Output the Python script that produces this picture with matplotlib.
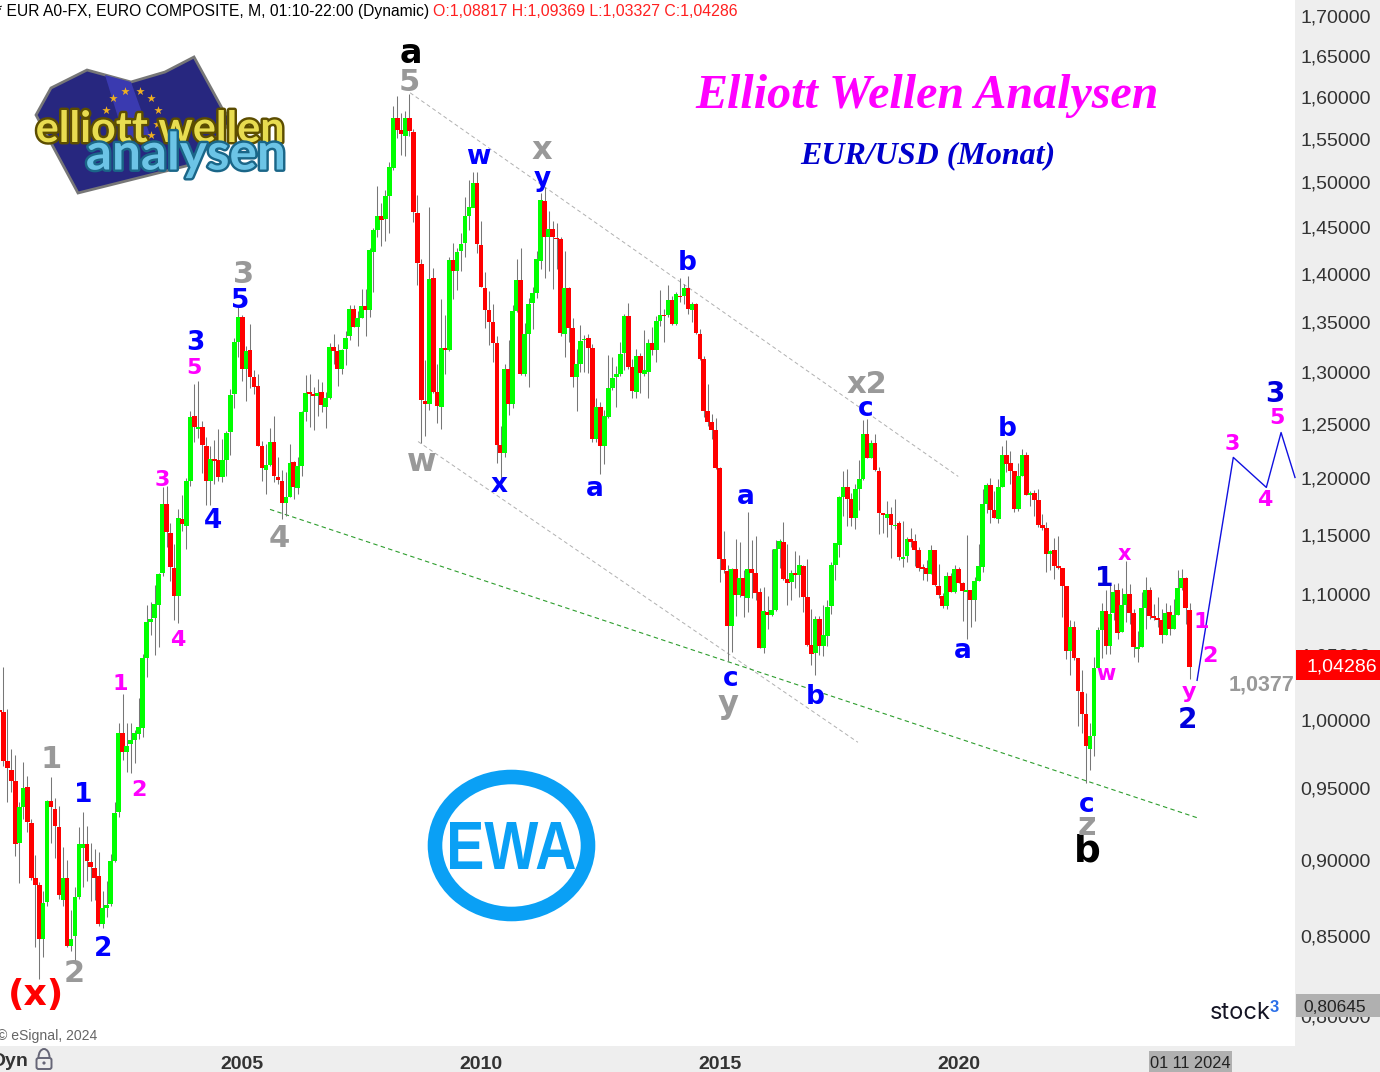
import numpy as np
import matplotlib
matplotlib.use('Agg')
import matplotlib.pyplot as plt
import matplotlib.patheffects as pe
from matplotlib.patches import Ellipse, Polygon, Rectangle, FancyBboxPatch, PathPatch, Circle, Arc
from matplotlib.textpath import TextPath
from matplotlib.font_manager import FontProperties
from matplotlib.transforms import Affine2D, ScaledTranslation

plt.rcParams['font.family'] = ['Liberation Sans', 'DejaVu Sans']

# monatskerzen EUR/USD, dez 1999 bis nov 2024
opens = [1.0095,
    1.0075,.971,.965,.957,.9127,.938,.9527,.9272,.8894,.8847,.8496,.873,
    .9424,.9367,.9244,.8747,.8892,.8449,.8509,.8767,.9096,.912,.9002,.8962,
    .8908,.859,.8694,.8721,.9009,.9347,.9918,.9777,.9834,.987,.9913,.996,
    1.05,1.0784,1.0816,1.0925,1.1188,1.1788,1.1533,1.1234,1.0999,1.1656,1.1592,1.1997,
    1.2598,1.2475,1.2494,1.2317,1.1997,1.2195,1.2185,1.2027,1.2185,1.2441,1.2804,1.332,
    1.3567,1.3047,1.3236,1.2975,1.2887,1.2317,1.2098,1.2141,1.235,1.2033,1.1997,1.1794,
    1.1854,1.217,1.1928,1.2127,1.2632,1.2826,1.2807,1.279,1.2822,1.268,1.277,1.3266,
    1.323,1.305,1.3248,1.338,1.3656,1.3469,1.3564,1.3687,1.3642,1.425,1.4495,1.465,
    1.4607,1.487,1.5186,1.5766,1.5623,1.555,1.5766,1.5605,1.4681,1.413,1.2737,1.2712,
    1.3978,1.2823,1.2682,1.3258,1.3241,1.4168,1.4048,1.4268,1.4347,1.465,1.4731,1.5016,
    1.4332,1.3873,1.3646,1.3516,1.3307,1.2323,1.2252,1.3048,1.2712,1.3638,1.3957,1.2997,
    1.3395,1.3718,1.3816,1.4157,1.4815,1.4412,1.4502,1.4405,1.4393,1.3401,1.3876,1.3455,
    1.2971,1.3096,1.3334,1.3355,1.3255,1.2382,1.2679,1.2316,1.2587,1.2868,1.2971,1.2997,
    1.3208,1.3587,1.3067,1.2825,1.3181,1.3005,1.302,1.3311,1.3241,1.3535,1.3594,1.3597,
    1.375,1.3499,1.3791,1.3786,1.3876,1.3645,1.371,1.3401,1.3145,1.2641,1.2537,1.2462,
    1.2108,1.1306,1.1206,1.0756,1.1221,1.1006,1.1152,1.0984,1.1221,1.119,1.1029,1.0579,
    1.0867,1.0842,1.0883,1.1393,1.1459,1.1136,1.1114,1.119,1.1173,1.1249,1.099,1.06,
    1.0535,1.081,1.0593,1.0672,1.0915,1.1257,1.1429,1.1848,1.1938,1.183,1.1662,1.1919,
    1.2009,1.2423,1.2208,1.2338,1.2087,1.1706,1.1662,1.1697,1.1594,1.1617,1.1308,1.1334,
    1.1481,1.1462,1.1385,1.1235,1.123,1.1184,1.1385,1.1081,1.0999,1.0919,1.1165,1.1034,
    1.1224,1.1106,1.1034,1.1048,1.0968,1.1123,1.1244,1.1792,1.1955,1.1733,1.1653,1.1937,
    1.2227,1.2154,1.2082,1.1747,1.2036,1.2235,1.1872,1.1884,1.1822,1.1599,1.158,1.1351,
    1.1385,1.1249,1.1232,1.1081,1.0554,1.0745,1.05,1.0234,1.0066,.9797,.99,1.042,
    1.0718,1.0873,1.0593,1.086,1.1046,1.0705,1.0922,1.1015,1.0857,1.0569,1.0585,1.0897,
    1.1046,1.083,1.0814,1.0798,1.0678,1.0865,1.0727,1.084,1.1063,1.1146,1.08817]

closes = [1.0075,
    .9711,.9658,.9565,.9123,.9379,.9517,.9274,.889,.8845,.8492,.8725,.9426,
    .9379,.9246,.878,.8892,.8449,.8492,.8767,.9123,.9123,.9009,.8969,.8894,
    .859,.8694,.8714,.9009,.934,.9918,.9777,.982,.987,.9918,.9963,1.05,
    1.0784,1.081,1.0928,1.1183,1.1788,1.154,1.1239,1.0999,1.1665,1.1612,1.1997,1.2591,
    1.2488,1.2495,1.2326,1.1997,1.2195,1.218,1.2027,1.2185,1.2438,1.2795,1.332,1.3567,
    1.3047,1.323,1.2969,1.2879,1.2318,1.211,1.2141,1.235,1.2036,1.2006,1.1794,1.1854,
    1.2158,1.1937,1.2127,1.2637,1.2815,1.281,1.2783,1.2813,1.27,1.277,1.3266,1.323,
    1.3047,1.3241,1.3361,1.3656,1.3469,1.3557,1.3687,1.3642,1.4275,1.4495,1.465,1.4601,
    1.487,1.5198,1.5766,1.5627,1.5577,1.5766,1.5608,1.4685,1.4133,1.2746,1.2712,1.3968,
    1.2826,1.2693,1.3262,1.3241,1.4168,1.4048,1.4254,1.4339,1.465,1.4746,1.5016,1.4336,
    1.388,1.3642,1.352,1.331,1.2326,1.2252,1.3048,1.2712,1.3638,1.3957,1.2997,1.3395,
    1.371,1.3816,1.418,1.4826,1.4412,1.4502,1.4412,1.439,1.3408,1.3876,1.3458,1.2971,
    1.3096,1.3331,1.3352,1.3258,1.2382,1.2679,1.2316,1.2594,1.2868,1.2964,1.2997,1.3201,
    1.3587,1.307,1.2835,1.3181,1.3012,1.3037,1.3311,1.3238,1.3535,1.3594,1.358,1.375,
    1.3499,1.3811,1.3776,1.3876,1.3652,1.371,1.3408,1.3148,1.2644,1.254,1.2465,1.2114,
    1.1306,1.1215,1.0756,1.1221,1.1006,1.1152,1.0998,1.1221,1.1193,1.1026,1.0579,1.0872,
    1.0845,1.0883,1.1393,1.1462,1.1139,1.1106,1.1187,1.1173,1.1257,1.099,1.06,1.053,
    1.081,1.0593,1.0681,1.0904,1.1254,1.1443,1.1848,1.1938,1.183,1.1662,1.1919,1.2015,
    1.2423,1.2208,1.2338,1.209,1.1706,1.1688,1.1697,1.1607,1.1607,1.1325,1.1325,1.1481,
    1.1459,1.1385,1.1235,1.1225,1.1185,1.1385,1.1089,1.1007,1.0919,1.1165,1.1034,1.1224,
    1.1109,1.104,1.1045,1.0968,1.1123,1.1249,1.1786,1.1955,1.1733,1.1665,1.1937,1.2227,
    1.2148,1.2082,1.1747,1.2036,1.2235,1.1872,1.1884,1.1825,1.1599,1.158,1.1351,1.1377,
    1.1249,1.1232,1.1084,1.0554,1.0745,1.05,1.0242,1.0066,.9822,.99,1.042,1.0721,
    1.0873,1.0593,1.0848,1.1029,1.0697,1.0922,1.1015,1.0857,1.0582,1.0585,1.0897,1.1046,
    1.0833,1.0814,1.0798,1.0678,1.0857,1.0727,1.084,1.1063,1.1146,1.0896,1.04286]

highs = [1.0215,
    1.0424,1.0097,.9797,.9757,.942,.9708,.9606,.9297,.905,.8863,.8803,.9433,
    .9599,.9445,.9391,.91,.9016,.868,.883,.9243,.9344,.925,.9127,.9089,
    .907,.8807,.8874,.9055,.9419,.9995,1.0217,.9993,.9995,.9943,1.0186,1.0525,
    1.092,1.095,1.1093,1.1192,1.1937,1.1946,1.1622,1.1438,1.1745,1.1868,1.2021,1.2648,
    1.2903,1.2935,1.2552,1.24,1.2312,1.2369,1.2473,1.2376,1.2457,1.2857,1.336,1.369,
    1.3597,1.328,1.35,1.304,1.3,1.2364,1.233,1.248,1.2598,1.2215,1.2097,1.2073,
    1.2333,1.218,1.2216,1.2647,1.2995,1.3,1.2877,1.2957,1.2919,1.283,1.331,1.3395,
    1.33,1.325,1.343,1.37,1.37,1.3636,1.3863,1.3857,1.4293,1.451,1.498,1.4785,
    1.4937,1.5255,1.5913,1.6033,1.5825,1.585,1.6055,1.5643,1.488,1.418,1.3137,1.4741,
    1.4079,1.31,1.3752,1.3594,1.42,1.4346,1.43,1.446,1.4859,1.505,1.5136,1.5136,
    1.4594,1.4045,1.3838,1.371,1.3375,1.2502,1.31,1.334,1.369,1.4176,1.4292,1.3513,
    1.377,1.3884,1.4268,1.4896,1.4965,1.4704,1.4592,1.4563,1.441,1.4265,1.3887,1.3565,
    1.3251,1.3494,1.3385,1.3395,1.33,1.2764,1.2725,1.2651,1.3185,1.3168,1.3076,1.3318,
    1.3604,1.372,1.3145,1.3251,1.3208,1.3435,1.3352,1.347,1.3587,1.3847,1.3655,1.3908,
    1.3793,1.3828,1.3978,1.3915,1.3994,1.3724,1.372,1.3452,1.3175,1.29,1.2619,1.258,
    1.2121,1.155,1.1257,1.1229,1.1481,1.1452,1.1215,1.1715,1.1472,1.1507,1.1062,1.1076,
    1.0997,1.1392,1.1472,1.148,1.1632,1.1436,1.1215,1.1377,1.1343,1.1257,1.1313,1.089,
    1.083,1.083,1.0925,1.0965,1.128,1.145,1.1857,1.2083,1.2106,1.1889,1.197,1.2183,
    1.2555,1.2572,1.2367,1.2429,1.2121,1.1706,1.181,1.1762,1.183,1.1639,1.1639,1.1496,
    1.1574,1.1523,1.1413,1.127,1.13,1.143,1.1385,1.1264,1.102,1.1195,1.1187,1.1258,
    1.1244,1.1117,1.1514,1.1048,1.116,1.1437,1.1918,1.198,1.2025,1.19,1.2015,1.2319,
    1.2366,1.227,1.2082,1.216,1.2283,1.226,1.19,1.191,1.1918,1.1703,1.1625,1.1385,
    1.1493,1.1505,1.1232,1.1081,1.08,1.0789,1.05,1.0404,1.022,.9995,1.0505,1.0747,
    1.0941,1.1046,1.1101,1.1101,1.1108,1.1063,1.1293,1.11,1.0894,1.071,1.1032,1.1157,
    1.1074,1.0935,1.0987,1.0894,1.094,1.0923,1.0977,1.1213,1.1228,1.1157,1.09369]

lows = [1.0,
    .9679,.9415,.9486,.9043,.8857,.9297,.9204,.888,.8443,.8239,.838,.8708,
    .9127,.9025,.8752,.8708,.8445,.8417,.8354,.8752,.8834,.8874,.8741,.8746,
    .8577,.8566,.8636,.8708,.8997,.9313,.9723,.963,.9623,.9696,.9878,.989,
    1.035,1.0676,1.052,1.058,1.1168,1.141,1.1127,1.0802,1.0776,1.1548,1.1394,1.1946,
    1.235,1.2386,1.2063,1.178,1.1783,1.1967,1.1997,1.1982,1.2036,1.2233,1.2672,1.317,
    1.2935,1.2742,1.2863,1.2807,1.2318,1.1997,1.1877,1.2133,1.1985,1.1967,1.1655,1.1685,
    1.1848,1.1833,1.1877,1.2042,1.2545,1.2488,1.2466,1.26,1.2634,1.248,1.276,1.31,
    1.288,1.3,1.3086,1.3335,1.3469,1.3278,1.3557,1.338,1.357,1.3827,1.4419,1.432,
    1.437,1.4455,1.516,1.5531,1.533,1.532,1.555,1.4583,1.3908,1.2345,1.2412,1.265,
    1.2816,1.253,1.2471,1.3,1.3228,1.376,1.385,1.4048,1.42,1.4495,1.4741,1.424,
    1.388,1.346,1.3285,1.312,1.216,1.1925,1.2215,1.2603,1.267,1.3625,1.2988,1.2985,
    1.2875,1.3451,1.377,1.4073,1.3975,1.405,1.3863,1.407,1.338,1.3168,1.3318,1.2876,
    1.2645,1.3018,1.302,1.301,1.2353,1.2353,1.2056,1.2149,1.258,1.285,1.2682,1.2985,
    1.3037,1.3055,1.2771,1.277,1.282,1.298,1.277,1.3185,1.3118,1.3485,1.3318,1.3573,
    1.349,1.349,1.3725,1.3707,1.3604,1.352,1.3394,1.314,1.2587,1.25,1.2382,1.21,
    1.1117,1.1187,1.0474,1.054,1.0834,1.0992,1.0829,1.087,1.098,1.0965,1.0575,1.0535,
    1.0729,1.0835,1.0875,1.1235,1.1135,1.0925,1.0965,1.1067,1.0992,1.087,1.0595,1.0442,
    1.036,1.052,1.0515,1.0588,1.085,1.1131,1.1323,1.168,1.159,1.1593,1.1572,1.1733,
    1.2,1.2208,1.2208,1.2085,1.152,1.1531,1.15,1.1315,1.157,1.13,1.124,1.1286,
    1.1413,1.125,1.121,1.113,1.112,1.118,1.108,1.098,1.09,1.0894,1.103,1.102,
    1.1105,1.0796,1.0649,1.0748,1.079,1.112,1.1202,1.171,1.1623,1.1665,1.162,1.1937,
    1.2072,1.197,1.172,1.1727,1.2036,1.1865,1.177,1.168,1.1587,1.156,1.1202,1.122,
    1.1139,1.1225,1.0822,1.049,1.0365,1.048,.9971,.9916,.9555,.965,.9749,1.042,
    1.0493,1.0527,1.0527,1.08,1.0646,1.0705,1.0786,1.0772,1.0506,1.0468,1.0585,1.0732,
    1.081,1.08,1.0745,1.0617,1.0678,1.068,1.0727,1.084,1.1046,1.0772,1.03327]

# trendlinien: monate seit jan 2000 / kurs
upper_gray_x = [102.2, 239.9]
upper_gray_y = [1.607, 1.2035]
lower_gray_x = [104.2, 214.7]
lower_gray_y = [1.2356, .985]
green_x = [67, 300.2]
green_y = [1.174, .9303]
forecast_x = [299.9, 309, 317.3, 321, 324.5]
forecast_y = [1.0321, 1.2209, 1.1936, 1.2440, 1.2026]

price_ticks = [1.70, 1.65, 1.60, 1.55, 1.50, 1.45, 1.40, 1.35, 1.30, 1.25, 1.20,
               1.15, 1.10, 1.05, 1.00, .95, .90, .85, .80]
year_ticks = [60, 120, 180, 240]
year_labels = ['2005', '2010', '2015', '2020']

GRAY = '#999999'
BLUE = '#0000ff'
MAG = '#ff00ff'
# wellenbeschriftung: text, x, y (pixel), farbe, groesse
wave_labels = [
    ('a', 411, 52, 'black', 24), ('b', 1087, 850, 'black', 27),
    ('5', 409, 81, GRAY, 22), ('3', 244, 273, GRAY, 22), ('1', 51, 758, GRAY, 22),
    ('2', 74, 972, GRAY, 22), ('4', 279, 537, GRAY, 22), ('x2', 867, 383, GRAY, 22),
    ('w', 422, 461, GRAY, 23), ('x', 542, 149, GRAY, 23), ('y', 728, 703, GRAY, 23),
    ('z', 1087, 825, GRAY, 23),
    ('5', 240, 300, BLUE, 19), ('3', 195, 341, BLUE, 19), ('1', 83, 794, BLUE, 19),
    ('2', 103, 948, BLUE, 19), ('4', 213, 520, BLUE, 19), ('w', 478, 155, BLUE, 19),
    ('y', 542, 177, BLUE, 19), ('x', 499, 484, BLUE, 19), ('a', 595, 488, BLUE, 19),
    ('b', 687, 261, BLUE, 19), ('a', 746, 496, BLUE, 19), ('c', 731, 678, BLUE, 19),
    ('b', 815, 696, BLUE, 19), ('c', 866, 408, BLUE, 19), ('a', 963, 650, BLUE, 19),
    ('b', 1007, 427, BLUE, 19), ('1', 1104, 578, '#0000dd', 19), ('c', 1087, 803, BLUE, 19),
    ('2', 1187, 718, '#0000dd', 20), ('3', 1275, 393, '#0000dd', 20),
    ('5', 194, 366, MAG, 16), ('3', 162, 479, MAG, 16), ('4', 178, 639, MAG, 16),
    ('1', 120, 683, MAG, 16), ('2', 139, 788, MAG, 16), ('1', 1201, 621, MAG, 16),
    ('2', 1210, 655, MAG, 16), ('w', 1106, 672, MAG, 15), ('x', 1124, 553, MAG, 15),
    ('y', 1189, 690, MAG, 16), ('3', 1232, 442, MAG, 16), ('4', 1265, 499, MAG, 16),
    ('5', 1277, 417, MAG, 16), ('(x)', 36, 993, '#ff0000', 26),
]

fig = plt.figure(figsize=(13.8, 10.72), dpi=100, facecolor='#eeeeee')
ax = fig.add_axes([0, 26 / 1072, 1295 / 1380, 1046 / 1072], facecolor='white')

x = np.arange(len(closes)) - 1
o = np.array(opens)
c = np.array(closes)
colors = np.where(c >= o, '#00ff00', '#ff0000')

ax.vlines(x, lows, highs, color='#777777', lw=0.75, zorder=2)
ax.bar(x, np.maximum(np.abs(c - o), 0.0012), bottom=np.minimum(o, c), width=1.2,
       color=colors, linewidth=0, zorder=3)

ax.plot(upper_gray_x, upper_gray_y, color='#b0b0b0', lw=0.7, ls=(0, (4, 3)), zorder=1)
ax.plot(lower_gray_x, lower_gray_y, color='#b0b0b0', lw=0.7, ls=(0, (4, 3)), zorder=1)
ax.plot(green_x, green_y, color='#2e9e2e', lw=0.8, ls=(0, (4, 3)), zorder=1)
ax.plot(forecast_x, forecast_y, color='#1010e0', lw=1.0, zorder=4, clip_on=False)

ax.set_yscale('log')
ax.set_xlim(-0.83, 324.5)
ax.set_ylim(0.7835, 1.7234)
ax.yaxis.tick_right()
ax.set_yticks(price_ticks)
ax.set_yticklabels([('%.5f' % p).replace('.', ',') for p in price_ticks], fontsize=14, color='#333333')
ax.minorticks_off()
ax.set_xticks(year_ticks)
ax.set_xticklabels(year_labels, fontsize=14, fontweight='bold', color='#333333')
ax.tick_params(axis='y', length=0, pad=3.8, which='both')
ax.tick_params(axis='x', length=0, pad=7)
up = ScaledTranslation(0, 1.5 / 72, fig.dpi_scale_trans)
for lab in ax.get_yticklabels():
    lab.set_transform(lab.get_transform() + up)
for s in ax.spines.values():
    s.set_visible(False)

# ueberlagerung in pixelkoordinaten fuer texte und logos
ov = fig.add_axes([0, 0, 1, 1], facecolor='none')
ov.set_xlim(0, 1380)
ov.set_ylim(1072, 0)
ov.axis('off')

for txt, px, py, col, size in wave_labels:
    ov.text(px, py + 1.5, txt, color=col, fontsize=size, fontweight='bold', family='DejaVu Sans',
            ha='center', va='center')
ov.text(1262, 685.5, '1,0377', color=GRAY, fontsize=15.5, fontweight='bold', ha='center', va='center')

serif = ['Liberation Serif', 'DejaVu Serif']
ov.text(927, 96, 'Elliott Wellen Analysen', color=MAG, fontsize=34.6, fontweight='bold',
        style='italic', family=serif, ha='center', va='center')
ov.text(928, 156, 'EUR/USD (Monat)', color='#0000cc', fontsize=23, fontweight='bold',
        style='italic', family=serif, ha='center', va='center')

ov.text(-4, 11.5, '* EUR A0-FX, EURO COMPOSITE, M, 01:10-22:00 (Dynamic)', color='black',
        fontsize=11.25, ha='left', va='center')
ov.text(433, 11.5, 'O:1,08817 H:1,09369 L:1,03327 C:1,04286', color='#ff2020',
        fontsize=11.4, ha='left', va='center')

# logo oben links
ov.add_patch(Polygon([(36, 115), (51, 88), (87, 70), (131, 82), (165, 72), (194, 57), (223, 110),
                      (233, 120), (190, 165), (78, 193)], closed=True, facecolor='#27277f',
                     edgecolor='#777777', lw=2))
ov.add_patch(Polygon([(105, 75), (131, 82), (150, 135), (125, 140)], closed=True, facecolor='#3a3ab0', lw=0))
star_x = [113, 125, 140, 151, 158, 106, 151, 157]
star_y = [98, 91, 91, 98, 110, 110, 135, 124]
ov.scatter(star_x, star_y, marker='*', s=40, color='#f0b020', linewidths=0)
ov.text(160, 129, 'elliott wellen', color='#e8dc50', fontsize=31, fontweight='bold', family='Lato',
        ha='center', va='center', path_effects=[pe.withStroke(linewidth=3.5, foreground='#5c4d00')])
ov.text(186, 155, 'analysen', color='#6cc4e6', fontsize=37, fontweight='bold', family='Lato',
        ha='center', va='center', path_effects=[pe.withStroke(linewidth=3.5, foreground='#1a6688')])

# EWA logo
ov.add_patch(Ellipse((511.5, 845.5), 153, 137, fill=False, edgecolor='#0aa0f5', lw=10.5))
tp = TextPath((0, 0), 'EWA', size=50, prop=FontProperties(family='Liberation Sans', weight='bold'))
bb = tp.get_extents()
tr = Affine2D().translate(-bb.x0, -bb.y0).scale(125 / bb.width, -47 / bb.height).translate(450, 869)
ov.add_patch(PathPatch(tp, transform=tr + ov.transData, facecolor='#0aa0f5', lw=0))

# stock3
ov.text(1210, 1013, 'stock', color='#151525', fontsize=17, family='Inter', ha='left', va='center')
ov.text(1274.5, 1008, '3', color='#2a6fe8', fontsize=12, fontweight='bold', ha='center', va='center')

# kursmarken rechts
ov.add_patch(Rectangle((1296, 650), 84, 30, facecolor='#ff0000', lw=0))
ov.text(1306, 667, '1,04286', color='white', fontsize=14, ha='left', va='center')
ov.add_patch(Rectangle((1296, 994), 84, 23, facecolor='#b0b0b0', lw=0))
ov.text(1303, 1007, '0,80645', color='#222222', fontsize=12.5, ha='left', va='center')
ov.add_patch(Rectangle((1149, 1051), 83, 21, facecolor='#b0b0b0', lw=0))
ov.text(1150, 1064, '01 11 2024', color='#222222', fontsize=11.8, ha='left', va='center')

# fusszeile
ov.text(-3, 1036, '\u00a9 eSignal, 2024', color='#666666', fontsize=10.1, ha='left', va='center')
ov.text(-8, 1061, 'Dyn', color='#333333', fontsize=14, fontweight='bold', ha='left', va='center')
ov.add_patch(FancyBboxPatch((36.5, 1058), 15, 11, boxstyle='round,pad=0,rounding_size=2',
                            facecolor='none', edgecolor='#666677', lw=1.4))
ov.add_patch(Arc((44, 1057.5), 11, 17, theta1=180, theta2=360, edgecolor='#666677', lw=1.4))
ov.add_patch(Circle((44, 1063), 1.6, facecolor='#666677', lw=0))

fig.savefig('out.png', dpi=100, facecolor=fig.get_facecolor())
